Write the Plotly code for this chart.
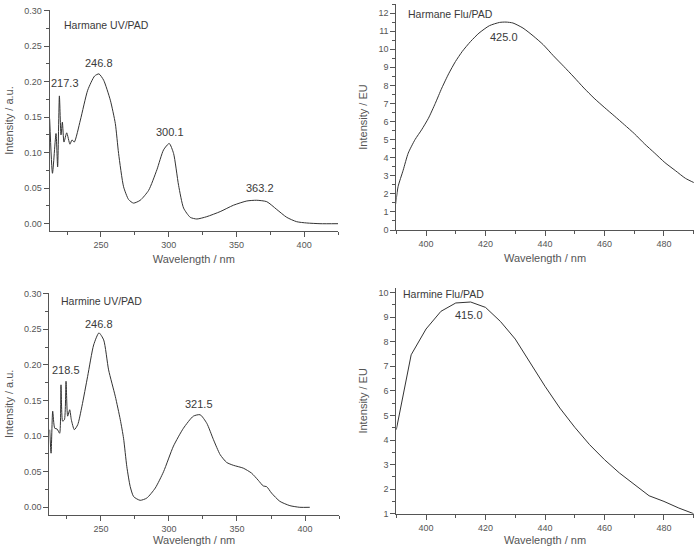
import plotly.graph_objects as go

# Harmane UV/PAD
harmane_uv_wl = [212.1, 214.2, 216.8, 218.0, 219.3, 220.5, 221.5, 222.7, 224.7, 227.1, 228.6, 230.3,
                 234.8, 240.2, 245.3, 248.5, 252.0, 256.9, 260.6, 263.0, 266.7, 270.4, 274.0, 279.0,
                 285.2, 291.3, 296.2, 300.4, 303.6, 307.3, 311.0, 315.9, 320.8, 328.1, 338.0, 347.8,
                 357.7, 365.0, 372.4, 379.8, 387.2, 394.5, 401.9, 411.7, 425.2]
harmane_uv_int = [0.148, 0.071, 0.127, 0.080, 0.180, 0.125, 0.143, 0.115, 0.128, 0.112, 0.118, 0.115,
                  0.146, 0.188, 0.208, 0.211, 0.202, 0.174, 0.141, 0.099, 0.052, 0.034, 0.029, 0.033,
                  0.047, 0.076, 0.104, 0.113, 0.099, 0.054, 0.022, 0.009, 0.0066, 0.0099, 0.017, 0.026,
                  0.032, 0.033, 0.031, 0.020, 0.0089, 0.0028, 0.001, 0.0, 0.0]

# Harmane Flu/PAD
harmane_flu_wl = [389.8, 390.6, 392.3, 394.0, 396.3, 398.5, 400.8, 403.1, 405.3, 407.6, 409.9, 412.2,
                  415.0, 417.8, 421.3, 424.7, 426.9, 429.2, 432.6, 436.0, 439.4, 442.8, 446.3, 449.7,
                  453.1, 456.5, 459.9, 463.3, 466.7, 470.1, 473.5, 476.9, 480.3, 483.8, 487.2, 490.6]
harmane_flu_int = [1.44, 2.4, 3.3, 4.25, 5.0, 5.54, 6.18, 7.0, 7.85, 8.64, 9.32, 9.88,
                   10.43, 10.89, 11.30, 11.48, 11.50, 11.45, 11.17, 10.74, 10.25, 9.64, 9.05, 8.46,
                   7.85, 7.29, 6.79, 6.31, 5.82, 5.32, 4.76, 4.25, 3.73, 3.29, 2.86, 2.58]

# Harmine UV/PAD
harmine_uv_wl = [212.3, 213.3, 214.5, 216.0, 217.7, 219.6, 220.6, 221.8, 223.1, 224.3, 225.5, 227.0,
                 228.2, 230.4, 232.9, 236.0, 240.2, 244.6, 248.5, 252.0, 255.6, 260.5, 264.2, 266.6,
                 269.0, 271.5, 274.0, 278.8, 283.7, 289.9, 296.0, 303.3, 310.6, 317.9, 322.9, 327.8,
                 332.7, 337.6, 342.4, 347.3, 354.6, 360.7, 365.6, 369.3, 371.8, 375.4, 381.5, 388.9,
                 396.2, 403.5]
harmine_uv_int = [0.109, 0.076, 0.135, 0.111, 0.110, 0.104, 0.172, 0.121, 0.123, 0.177, 0.128, 0.137,
                  0.123, 0.109, 0.116, 0.142, 0.184, 0.228, 0.245, 0.235, 0.193, 0.156, 0.123, 0.097,
                  0.057, 0.029, 0.015, 0.0098, 0.013, 0.027, 0.050, 0.086, 0.111, 0.128, 0.130, 0.118,
                  0.095, 0.074, 0.063, 0.059, 0.055, 0.048, 0.038, 0.030, 0.029, 0.020, 0.0084, 0.0023,
                  0.0, 0.0]

# Harmine Flu/PAD
harmine_flu_wl = [390, 395, 400, 405, 410, 415, 420, 425, 430, 435, 440, 445, 450, 455, 460, 465,
                  470, 475, 480, 485, 490]
harmine_flu_int = [4.42, 7.47, 8.52, 9.24, 9.58, 9.62, 9.40, 8.83, 8.11, 7.16, 6.19, 5.30, 4.52,
                   3.81, 3.20, 2.66, 2.18, 1.73, 1.50, 1.23, 1.0]

W, H = 694, 546
LINE = "#333333"
AX = "#555555"
FONT = "Liberation Sans, Arial, sans-serif"

fig = go.Figure()
series = [
    (harmane_uv_wl, harmane_uv_int, "x", "y", "spline"),
    (harmane_flu_wl, harmane_flu_int, "x2", "y2", "spline"),
    (harmine_uv_wl, harmine_uv_int, "x3", "y3", "spline"),
    (harmine_flu_wl, harmine_flu_int, "x4", "y4", "linear"),
]
for xs, ys, xa, ya, shape in series:
    fig.add_trace(go.Scatter(x=xs, y=ys, mode="lines", xaxis=xa, yaxis=ya,
                             line=dict(color=LINE, width=1, shape=shape, smoothing=0.6),
                             showlegend=False, hoverinfo="skip", cliponaxis=True))


def dx(a, b):
    return [a / W, b / W]


def dy(bottom, top):
    return [1 - bottom / H, 1 - top / H]


def xaxis(dom, rng, dtick, minor, anchor):
    return dict(domain=dom, range=rng, dtick=dtick, tick0=0, anchor=anchor,
                automargin=False,
                showline=True, linecolor=AX, linewidth=1, ticks="outside",
                ticklen=5, tickcolor=AX, showgrid=False, zeroline=False,
                tickfont=dict(size=9, color=AX, family=FONT),
                minor=dict(dtick=minor, ticks="outside", ticklen=3, tickcolor=AX),
                title=dict(text="Wavelength / nm", font=dict(size=11, color=AX, family=FONT),
                           standoff=6))


def yaxis(dom, rng, dtick, minor, anchor, title, fmt=None):
    d = dict(domain=dom, range=rng, dtick=dtick, tick0=0, anchor=anchor,
             automargin=False,
             showline=True, linecolor=AX, linewidth=1, ticks="outside",
             ticklen=5, tickcolor=AX, showgrid=False, zeroline=False,
             tickfont=dict(size=9, color=AX, family=FONT),
             minor=dict(dtick=minor, ticks="outside", ticklen=3, tickcolor=AX),
             title=dict(text=title, font=dict(size=11, color=AX, family=FONT),
                        standoff=8))
    if fmt:
        d["tickformat"] = fmt
    return d


fig.update_layout(
    width=W, height=H,
    margin=dict(l=0, r=0, t=0, b=0, autoexpand=False),
    paper_bgcolor="white", plot_bgcolor="white",
    font=dict(family=FONT, color=AX),
    xaxis=xaxis(dx(49.5, 338), [212, 425], 50, 25, "y"),
    yaxis=yaxis(dy(231, 10), [-0.0103, 0.301], 0.05, 0.025, "x", "Intensity / a.u.", ".2f"),
    xaxis2=xaxis(dx(396.3, 693.7), [390, 490], 20, 10, "y2"),
    yaxis2=yaxis(dy(230, 4), [0, 12.5], 1, 0.5, "x2", "Intensity / EU"),
    xaxis3=xaxis(dx(49.3, 339), [212, 425], 50, 25, "y3"),
    yaxis3=yaxis(dy(514.7, 293), [-0.0104, 0.301], 0.05, 0.025, "x3", "Intensity / a.u.", ".2f"),
    xaxis4=xaxis(dx(396.3, 693.7), [390, 490], 20, 10, "y4"),
    yaxis4=yaxis(dy(513.7, 288), [1, 10.19], 1, 0.5, "x4", "Intensity / EU"),
)

labels = [
    ("Harmane UV/PAD", 62, 25, "left"),
    ("246.8", 99, 63, "center"),
    ("217.3", 65, 83, "center"),
    ("300.1", 170, 132, "center"),
    ("363.2", 260, 188, "center"),
    ("Harmane Flu/PAD", 406, 14, "left"),
    ("425.0", 504, 37, "center"),
    ("Harmine UV/PAD", 59, 301, "left"),
    ("246.8", 99, 324, "center"),
    ("218.5", 66, 370, "center"),
    ("321.5", 199, 404, "center"),
    ("Harmine Flu/PAD", 401, 294, "left"),
    ("415.0", 469, 315, "center"),
]
for text, px, py, al in labels:
    fig.add_annotation(text=text, x=px / W, y=1 - py / H, xref="paper", yref="paper",
                       xanchor=al, yanchor="middle", showarrow=False,
                       font=dict(size=11 if "/" not in text else 10.5, color="#3a3a3a", family=FONT))

fig.write_html("out.html",
               config={"displayModeBar": False, "staticPlot": True},
               post_script="document.body.style.margin='0';document.body.style.overflow='hidden';")
